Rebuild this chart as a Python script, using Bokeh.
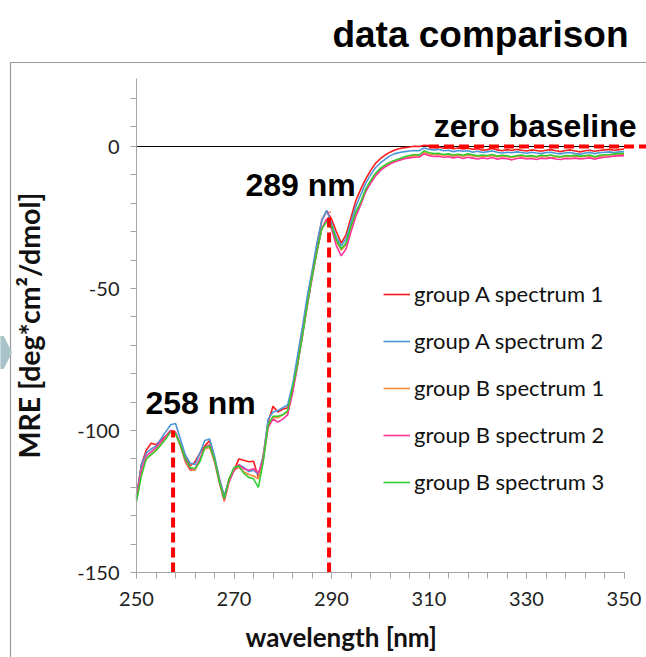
from bokeh.plotting import figure
from bokeh.models import (LinearAxis, FixedTicker, Range1d, Label, Legend, LegendItem,
                          ColumnDataSource)
from bokeh.embed import file_html
from bokeh.resources import INLINE

# ---------------- data ----------------
wavelength = list(range(250, 351))

group_a_1 = [-123, -112, -107, -104.5, -105, -103.5, -102, -100, -101, -105,
             -109.5, -112.5, -111, -108, -105.5, -103.5, -110, -117, -123.5, -117,
             -114, -110, -110.5, -111, -110.8, -116.5, -109, -97, -91.5, -93.5,
             -92.5, -92, -86, -76, -65, -55, -45, -35, -26, -22.8,
             -25.5, -30, -34, -31, -25, -19, -15, -11.5, -8.5, -6,
             -4.3, -3, -2, -1.2, -0.7, -0.4, -0.2, 0.1, 0, 0.4,
             0.3, -0.3, -0.2, -0.6, -0.4, -0.8, -0.5, -0.9, -0.6, -1,
             -0.8, -1.3, -1.1, -0.7, -1.2, -1.5, -1.1, -1.4, -1.0, -1.3,
             -1.6, -1.2, -1.4, -1.7, -1.3, -1.1, -1.5, -1.8, -1.4, -1.2,
             -1.6, -1.9, -1.5, -1.3, -1.7, -1.4, -1.2, -1.0, -1.3, -1.1,
             -0.9]

group_a_2 = [-123.5, -112, -108, -106.5, -105.5, -103, -100.5, -98, -97.5, -103,
             -108.5, -111.5, -112, -108, -103.5, -103, -109, -117, -123, -117.5,
             -114, -112, -113, -114.5, -114, -115.5, -109, -96, -93.5, -93,
             -92, -91, -84, -74, -64, -53, -44, -34, -26, -22.5,
             -27, -32, -35, -32.5, -26.5, -21, -17, -13, -10, -7.5,
             -5.8, -4.5, -3.3, -2.5, -2.1, -1.8, -1.6, -1.4, -1.5, -0.5,
             -1, -1.2, -1.0, -1.5, -1.3, -1.8, -1.4, -1.7, -1.5, -2.0,
             -1.7, -2.1, -1.8, -1.6, -2.0, -2.3, -2.0, -2.2, -1.9, -2.1,
             -2.4, -2.0, -2.3, -2.5, -2.1, -2.0, -2.4, -2.6, -2.2, -2.1,
             -2.5, -2.7, -2.3, -2.1, -2.5, -2.2, -2.0, -1.9, -2.1, -1.9,
             -1.8]

group_b_1 = [-124.5, -114, -110, -108.5, -107, -105, -102.5, -100.5, -101, -105.5,
             -111, -114, -114, -110, -106.5, -106, -111, -118.5, -125, -118,
             -114, -113, -114.5, -115.5, -116, -117, -110, -98, -95.5, -95.5,
             -94.5, -93.5, -86, -77, -67, -56, -46, -37, -29, -26,
             -28, -33.5, -36.5, -34.5, -28.5, -23.5, -20, -15.5, -12.5, -10,
             -8, -6.8, -5.8, -5, -4.4, -3.9, -3.5, -3.2, -3.3, -2.2,
             -2.6, -2.8, -2.7, -3.1, -2.9, -3.4, -3.1, -3.5, -3.0, -3.3,
             -3.6, -3.3, -3.5, -3.2, -3.7, -3.4, -3.6, -3.9, -3.5, -3.3,
             -3.7, -3.5, -3.8, -3.4, -3.6, -4.0, -3.6, -3.8, -3.5, -3.6,
             -3.4, -3.7, -3.5, -3.3, -3.8, -3.4, -3.2, -3.0, -2.9, -2.8,
             -2.7]

group_b_2 = [-124, -114, -109, -107.5, -106, -104, -102, -100, -100.5, -105,
             -110.5, -113.5, -113.5, -110, -106, -105, -110.5, -118, -124.5, -118,
             -114, -112, -113.5, -114, -113.5, -115, -110, -99, -96, -97,
             -96, -94.5, -87, -77.5, -67, -56.5, -46.5, -37, -29, -25.5,
             -29, -35, -38.5, -36, -30, -24.5, -20.5, -16, -13, -10.5,
             -8.5, -7.2, -6.2, -5.4, -4.8, -4.3, -4, -3.8, -3.7, -2.6,
             -3.2, -3.5, -3.4, -3.8, -3.6, -4.0, -3.7, -4.2, -3.8, -4.1,
             -4.4, -4.0, -4.3, -3.9, -4.5, -4.1, -4.3, -4.7, -4.2, -4.0,
             -4.4, -4.2, -4.6, -4.1, -4.3, -4.0, -4.4, -4.6, -4.2, -4.3,
             -4.1, -4.4, -4.2, -4.0, -4.5, -4.0, -3.8, -3.6, -3.4, -3.3,
             -3.2]

group_b_3 = [-125, -116, -110, -108.5, -107, -105, -103, -100.5, -101, -105,
             -110, -113, -113.5, -111, -106, -105.5, -110, -118, -124, -117,
             -113, -112.5, -115, -116.5, -117, -120, -111, -98, -95, -95,
             -94.5, -93, -85, -77, -67, -56, -46, -37, -29, -26.5,
             -28, -33, -36, -34, -28, -23, -19.5, -15, -12, -9.5,
             -7.7, -6.5, -5.5, -4.8, -4.2, -3.6, -3.2, -2.8, -3, -1.5,
             -2.2, -2.5, -2.4, -2.8, -2.6, -3, -2.7, -3.1, -2.6, -2.9,
             -3.3, -3, -3.2, -2.8, -3.4, -3.1, -3.3, -3.6, -3.2, -3,
             -3.4, -3.2, -3.5, -3.1, -3.3, -3.0, -3.4, -3.6, -3.2, -3.3,
             -3.1, -3.4, -3.2, -3.0, -3.6, -3.1, -2.9, -2.8, -2.6, -2.5,
             -2.4]

series_names = ["group A spectrum 1", "group A spectrum 2", "group B spectrum 1",
                "group B spectrum 2", "group B spectrum 3"]
series_values = [group_a_1, group_a_2, group_b_1, group_b_2, group_b_3]
series_colors = ["#ff1a1a", "#4a96d8", "#f7893b", "#ff3399", "#33cc33"]

peak_wl = [257.5, 289.5]          # marked peaks
peak_mre = [-100.0, -23.0]
x_ticks = [250, 270, 290, 310, 330, 350]
x_minor = list(range(250, 351, 4))
y_ticks = [-150, -100, -50, 0]
y_tick_labels = ["-150", "-100", "-50", "0"]
y_minor = [-140, -130, -120, -110, -90, -80, -70, -60, -40, -30, -20, -10, 7, 17]

X_MIN, X_MAX = 250, 350
Y_MIN = -150
Y_TOP = 24
BASELINE_START = 310
X_TITLE_CENTER = 292   # wavelength at which the x axis title is centred

# canvas <-> data mapping (frame covers whole canvas)
W, H = 646, 657
PX_PER_NM = 4.875
PX_PER_UNIT = 2.84
X0_CANVAS = 136      # canvas x of 250 nm
Y0_CANVAS = 146      # canvas y of MRE 0

x_lo = X_MIN - X0_CANVAS / PX_PER_NM
x_hi = X_MIN + (W - X0_CANVAS) / PX_PER_NM
y_hi = Y0_CANVAS / PX_PER_UNIT
y_lo = -(H - Y0_CANVAS) / PX_PER_UNIT


def px_x(px):
    return x_lo + px / PX_PER_NM


def px_y(py):
    return y_hi - py / PX_PER_UNIT


p = figure(width=W, height=H, output_backend="svg", toolbar_location=None,
           x_axis_type=None, y_axis_type=None,
           x_range=Range1d(x_lo, x_hi), y_range=Range1d(y_lo, y_hi),
           min_border=0, min_border_left=0, min_border_right=0,
           min_border_top=0, min_border_bottom=0)
p.grid.visible = False
p.outline_line_color = None
p.background_fill_color = "white"
p.border_fill_color = "white"

# outer grey frame of the original picture
p.line([px_x(10), px_x(10), x_hi], [y_lo, px_y(62), px_y(62)],
       line_color="#9a9a9a", line_width=1.2)
# partial arrow shape at the left edge
p.patch([px_x(0), px_x(3), px_x(11), px_x(3), px_x(0)],
        [px_y(336), px_y(336), px_y(352), px_y(368), px_y(368)],
        fill_color="#a8c3c7", line_color="#a8c3c7")

tick_font = "Lato"
# axes
xaxis = LinearAxis(fixed_location=Y_MIN, bounds=(X_MIN, X_MAX),
                   ticker=FixedTicker(ticks=x_ticks, minor_ticks=x_minor))
yaxis = LinearAxis(fixed_location=X_MIN, bounds=(Y_MIN, Y_TOP),
                   ticker=FixedTicker(ticks=y_ticks, minor_ticks=y_minor),
                   axis_label="MRE [deg*cm\u00b2/dmol]")
yaxis.major_label_overrides = {t: s for t, s in zip(y_ticks, y_tick_labels)}
for ax in (xaxis, yaxis):
    ax.axis_line_color = "#a6a6a6"
    ax.axis_line_width = 1
    ax.major_tick_line_color = "#a6a6a6"
    ax.minor_tick_line_color = "#a6a6a6"
    ax.major_tick_out = 6
    ax.major_tick_in = 0
    ax.minor_tick_out = 6
    ax.minor_tick_in = 0
    ax.major_label_text_font = tick_font
    ax.major_label_text_font_size = "20px"
    ax.major_label_text_color = "#222222"
    ax.axis_label_text_font = tick_font
    ax.axis_label_text_font_style = "bold"
    ax.axis_label_text_font_size = "28.5px"
    ax.axis_label_text_color = "#111111"
xaxis.major_label_standoff = 13
yaxis.major_label_standoff = 11
yaxis.axis_label_standoff = 28
p.add_layout(xaxis, "below")
p.add_layout(yaxis, "left")

# x axis title (offset to the left of the axis centre, as in the original)
p.add_layout(Label(x=X_TITLE_CENTER, y=21, y_units="screen", text="wavelength [nm]",
                   text_font=tick_font, text_font_style="bold",
                   text_font_size="26px", text_align="center",
                   text_baseline="middle", text_color="#111111"))

# zero line
p.line([X_MIN, X_MAX], [0, 0], line_color="black", line_width=1)

# spectra
items = []
for name, vals, col in zip(series_names, series_values, series_colors):
    src = ColumnDataSource(dict(x=wavelength, y=vals))
    r = p.line("x", "y", source=src, line_color=col, line_width=1.6)
    items.append(LegendItem(label=name, renderers=[r]))

# peak markers and zero baseline
p.segment(x0=peak_wl, y0=[Y_MIN] * len(peak_wl), x1=peak_wl, y1=peak_mre,
          line_color="#ff0000", line_width=4, line_dash="10 5")
p.line([BASELINE_START, x_hi], [0, 0], line_color="#ff0000", line_width=4,
       line_dash="10 5")

legend = Legend(items=items, location=(383, 162), orientation="vertical")
legend.border_line_color = None
legend.background_fill_alpha = 0
legend.label_text_font = tick_font
legend.label_text_font_size = "22px"
legend.label_text_color = "#111111"
legend.glyph_width = 27
legend.glyph_height = 20
legend.label_height = 20
legend.label_standoff = 4
legend.spacing = 20
legend.padding = 0
legend.margin = 0
p.add_layout(legend)

title_font = "Liberation Sans"
for txt, x, y, size, align in [("data comparison", 628, 623, "37px", "right"),
                               ("zero baseline", 636, 532, "32px", "right"),
                               ("289 nm", 245, 473, "32px", "left"),
                               ("258 nm", 145, 255, "32px", "left")]:
    p.add_layout(Label(x=x, y=y, x_units="screen", y_units="screen", text=txt,
                       text_font=title_font, text_font_style="bold",
                       text_font_size=size, text_align=align,
                       text_baseline="alphabetic", text_color="black"))

open("out.html", "w").write(file_html(p, INLINE))
